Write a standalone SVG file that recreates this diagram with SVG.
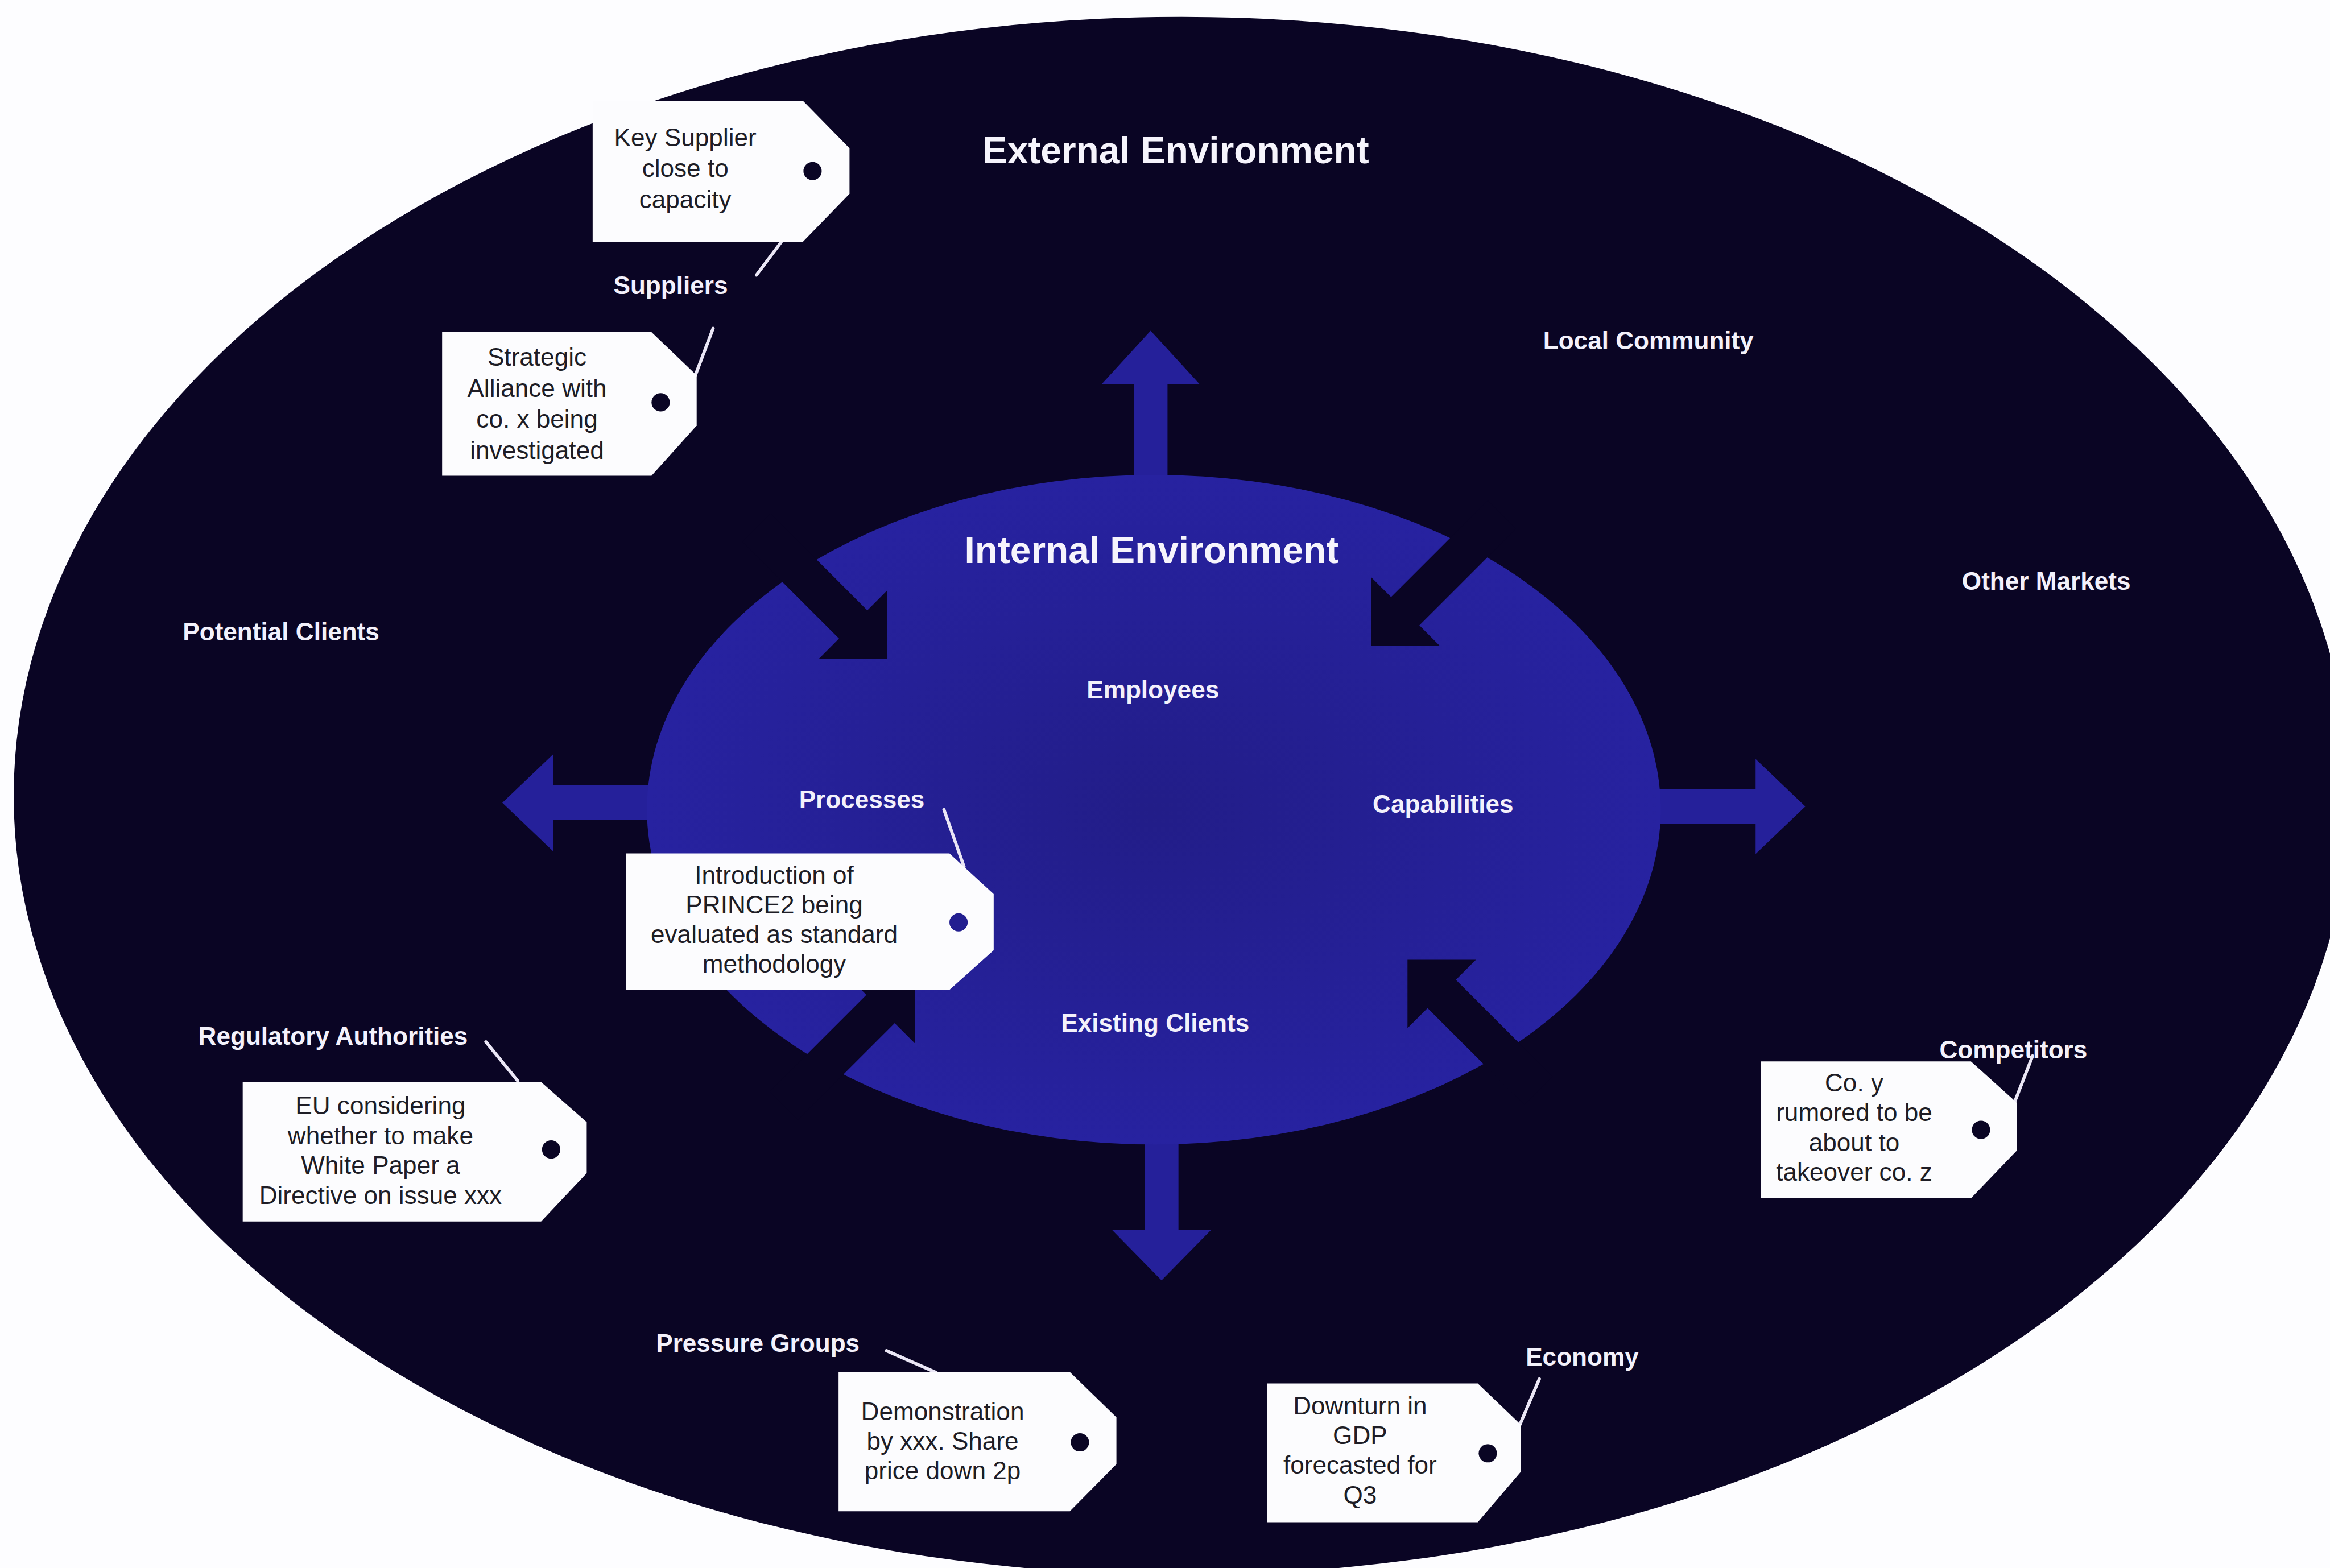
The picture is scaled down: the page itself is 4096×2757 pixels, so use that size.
<svg xmlns="http://www.w3.org/2000/svg" width="4096" height="2757" viewBox="0 0 4096 2757">
  <style>
    .label { font-family: "Liberation Sans", Arial, sans-serif; font-weight: bold; font-size: 55px; fill: #f3f1fb; text-anchor: middle; }
    .title { font-family: "Liberation Sans", Arial, sans-serif; font-weight: bold; font-size: 82px; fill: #f6f4fc; text-anchor: middle; }
    .tagtext { font-family: "Liberation Sans", Arial, sans-serif; font-size: 55px; fill: #1e1d26; text-anchor: middle; }
    .tag { fill: #fcfcfe; }
    .hole-dark { fill: #0a0524; }
    .hole-blue { fill: #231f90; }
    .leader { stroke: #ebe7f6; stroke-width: 7; fill: none; stroke-linecap: round; }
    .blue { fill: #25209a; }
    .dark { fill: #0a0524; }
  </style>
  <defs>
    <radialGradient id="innerFill" cx="0.5" cy="0.5" r="0.5">
      <stop offset="0" stop-color="#221d88"/>
      <stop offset="1" stop-color="#2722a0"/>
    </radialGradient>
  </defs>

  <rect width="4096" height="2757" fill="#fdfdff"/>

  <g transform="scale(0.80204)">
    <!-- external environment -->
    <g id="external">
      <ellipse cx="2590" cy="1745" rx="2560" ry="1708" fill="#0a0524"/>
    </g>

    <!-- outward arrows from the internal environment -->
    <g id="outward-arrows" class="blue">
      <polygon points="2522,725 2630,843 2559,843 2559,1150 2485,1150 2485,843 2414,843"/>
      <polygon points="2546,2807 2654,2697 2583,2697 2583,2400 2509,2400 2509,2697 2438,2697"/>
      <polygon points="1101,1760 1212,1654 1212,1722 1600,1722 1600,1798 1212,1798 1212,1866"/>
      <polygon points="3957,1768 3848,1664 3848,1730 3450,1730 3450,1806 3848,1806 3848,1872"/>
    </g>

    <!-- internal environment -->
    <g id="internal">
      <ellipse cx="2529" cy="1775" rx="1111" ry="734" fill="url(#innerFill)"/>
    </g>

    <!-- inward arrows (drawn in the outer colour) -->
    <g id="inward-arrows" class="dark">
      <!-- top-left, pointing down-right -->
      <polygon points="1945,1444 1795,1444 1839,1400 1627,1188 1689,1126 1901,1338 1945,1294"/>
      <!-- top-right, pointing down-left -->
      <polygon points="3005,1415 3005,1265 3049,1309 3261,1097 3323,1159 3111,1371 3155,1415"/>
      <!-- bottom-left, pointing up-right -->
      <polygon points="2005,2137 2005,2287 1961,2243 1749,2455 1687,2393 1899,2181 1855,2137"/>
      <!-- bottom-right, pointing up-left -->
      <polygon points="3085,2104 3235,2104 3191,2148 3403,2360 3341,2422 3129,2210 3085,2254"/>
    </g>

    <!-- headings and factor labels -->
    <g id="labels">
      <text class="title" x="2577" y="358">External Environment</text>
      <text class="title" x="2524" y="1234">Internal Environment</text>
      <text class="label" x="1470" y="645">Suppliers</text>
      <text class="label" x="3613" y="766">Local Community</text>
      <text class="label" x="4485" y="1293">Other Markets</text>
      <text class="label" x="616" y="1404">Potential Clients</text>
      <text class="label" x="2527" y="1531">Employees</text>
      <text class="label" x="1889" y="1772">Processes</text>
      <text class="label" x="3163" y="1782">Capabilities</text>
      <text class="label" x="2532" y="2262">Existing Clients</text>
      <text class="label" x="730" y="2290">Regulatory Authorities</text>
      <text class="label" x="4413" y="2320">Competitors</text>
      <text class="label" x="1661" y="2964">Pressure Groups</text>
      <text class="label" x="3468" y="2994">Economy</text>
    </g>

    <!-- leader lines from tags to their factors -->
    <g id="connectors" class="leader">
      <line x1="1712" y1="531" x2="1658" y2="603"/>
      <line x1="1524" y1="823" x2="1563" y2="720"/>
      <line x1="2113" y1="1900" x2="2069" y2="1775"/>
      <line x1="1135" y1="2370" x2="1065" y2="2284"/>
      <line x1="4415" y1="2418" x2="4455" y2="2315"/>
      <line x1="2052" y1="3009" x2="1943" y2="2961"/>
      <line x1="3331" y1="3124" x2="3374" y2="3023"/>
    </g>

    <!-- tags -->
    <g id="tag-key-supplier">
      <path class="tag" d="M1299,221 H1760 L1862,325 V425 L1760,530 H1299 Z"/>
      <circle class="hole-dark" cx="1781" cy="375" r="20"/>
      <text class="tagtext"><tspan x="1502" y="320">Key Supplier</tspan><tspan x="1502" y="388">close to</tspan><tspan x="1502" y="456">capacity</tspan></text>
    </g>

    <g id="tag-strategic-alliance">
      <path class="tag" d="M969,728 H1428 L1527,823 V933 L1428,1043 H969 Z"/>
      <circle class="hole-dark" cx="1448" cy="882" r="20"/>
      <text class="tagtext"><tspan x="1177" y="802">Strategic</tspan><tspan x="1177" y="870">Alliance with</tspan><tspan x="1177" y="938">co. x being</tspan><tspan x="1177" y="1006">investigated</tspan></text>
    </g>

    <g id="tag-prince2">
      <path class="tag" d="M1372,1871 H2081 L2178,1960 V2083 L2081,2170 H1372 Z"/>
      <circle class="hole-blue" cx="2101" cy="2022" r="20"/>
      <text class="tagtext"><tspan x="1697" y="1937">Introduction of</tspan><tspan x="1697" y="2002">PRINCE2 being</tspan><tspan x="1697" y="2067">evaluated as standard</tspan><tspan x="1697" y="2132">methodology</tspan></text>
    </g>

    <g id="tag-eu">
      <path class="tag" d="M532,2372 H1186 L1286,2460 V2572 L1186,2678 H532 Z"/>
      <circle class="hole-dark" cx="1208" cy="2520" r="20"/>
      <text class="tagtext"><tspan x="834" y="2442">EU considering</tspan><tspan x="834" y="2508">whether to make</tspan><tspan x="834" y="2574">White Paper a</tspan><tspan x="834" y="2640">Directive on issue xxx</tspan></text>
    </g>

    <g id="tag-co-y">
      <path class="tag" d="M3860,2327 H4320 L4420,2417 V2523 L4320,2627 H3860 Z"/>
      <circle class="hole-dark" cx="4342" cy="2477" r="20"/>
      <text class="tagtext"><tspan x="4064" y="2393">Co. y</tspan><tspan x="4064" y="2458">rumored to be</tspan><tspan x="4064" y="2523">about to</tspan><tspan x="4064" y="2588">takeover co. z</tspan></text>
    </g>

    <g id="tag-demonstration">
      <path class="tag" d="M1838,3008 H2345 L2447,3107 V3210 L2345,3313 H1838 Z"/>
      <circle class="hole-dark" cx="2367" cy="3162" r="20"/>
      <text class="tagtext"><tspan x="2066" y="3113">Demonstration</tspan><tspan x="2066" y="3178">by xxx. Share</tspan><tspan x="2066" y="3243">price down 2p</tspan></text>
    </g>

    <g id="tag-downturn">
      <path class="tag" d="M2777,3033 H3239 L3333,3123 V3227 L3239,3337 H2777 Z"/>
      <circle class="hole-dark" cx="3261" cy="3186" r="20"/>
      <text class="tagtext"><tspan x="2981" y="3101">Downturn in</tspan><tspan x="2981" y="3166">GDP</tspan><tspan x="2981" y="3231">forecasted for</tspan><tspan x="2981" y="3296">Q3</tspan></text>
    </g>
  </g>
</svg>
